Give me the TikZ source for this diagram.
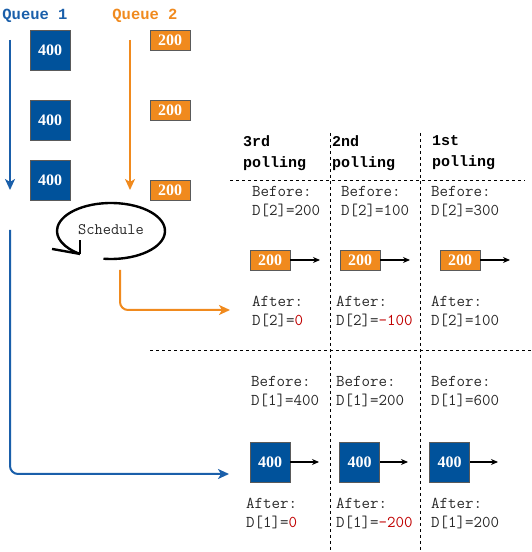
\documentclass[tikz,border=0pt]{standalone}
\usepackage{fontspec}
\setmainfont{Liberation Serif}
\newfontfamily\headmono{Liberation Mono}
\usetikzlibrary{arrows.meta, positioning, calc}
\definecolor{qblue}{RGB}{0, 82, 155}
\definecolor{lineblue}{RGB}{26, 95, 170}
\definecolor{qorange}{RGB}{240, 138, 30}
\definecolor{boxgray}{RGB}{90, 90, 90}
\definecolor{redval}{RGB}{192, 0, 0}
\definecolor{textgray}{RGB}{40, 40, 40}

\begin{document}
\begin{tikzpicture}[x=1pt, y=1pt,
    bigbox/.style={rectangle, draw=boxgray, thick, fill=qblue, text=white,
                   minimum width=40pt, minimum height=40pt, inner sep=0pt,
                   font=\fontsize{16}{16}\selectfont\bfseries},
    smallbox/.style={bigbox, fill=qorange, minimum height=20pt},
    info/.style={anchor=west, align=left, inner sep=0pt, text=textgray,
                 font=\ttfamily\fontsize{16.5}{19}\selectfont},
    head/.style={anchor=west, align=left, inner sep=0pt,
                 font=\headmono\bfseries\fontsize{15}{21}\selectfont},
    sep/.style={line width=0.8pt, dash pattern=on 3pt off 3pt},
    pushline/.style={-{Stealth[length=7pt, width=6pt]}, line width=1.1pt},
    feed/.style={-{Stealth[length=11pt, width=10pt, inset=3pt]},
                 line width=2pt, rounded corners=8pt}]

\useasboundingbox (0,0) rectangle (532,552);

% Queue 1
\node[inner sep=0pt, text=lineblue, font=\headmono\bfseries\fontsize{15.5}{15.5}\selectfont]
      (q1) at (35,536) {Queue 1};
\node[bigbox] (a1) at (50,502) {400};
\node[bigbox] (a2) at (50,432) {400};
\node[bigbox] (a3) at (50,372) {400};
\coordinate (q1top) at (10,512);
\coordinate (q1bot) at (10,362);
\draw[feed, draw=lineblue] (q1top) -- (q1bot);

% Queue 2
\node[inner sep=0pt, text=qorange, font=\headmono\bfseries\fontsize{15.5}{15.5}\selectfont]
      (q2) at (145,536) {Queue 2};
\node[smallbox] (b1) at (170,512) {200};
\node[smallbox] (b2) at (170,442) {200};
\node[smallbox] (b3) at (170,362) {200};
\coordinate (q2top) at (130,512);
\coordinate (q2bot) at (130,362);
\draw[feed, draw=qorange] (q2top) -- (q2bot);

% Scheduler
\coordinate (sched) at (111,321);
\node[inner sep=0pt, text=textgray, font=\ttfamily\fontsize{16}{16}\selectfont]
      (schedtext) at (111,322) {Schedule};
\draw[line width=2.4pt] ($(sched)+(262:54pt and 28pt)$)
      arc[start angle=262, end angle=595, x radius=54pt, y radius=28pt];
\coordinate (schedtip) at ($(sched)+(235:54pt and 28pt)$);
\draw[line width=2.4pt] (schedtip) -- ++(-28,5);
\draw[line width=2.4pt] (schedtip) -- ++(0,14);

% Grid of pollings
\draw[sep] (230,372) -- (525,372);
\draw[sep] (150,202) -- (532,202);
\draw[sep] (330,419) -- (330,0);
\draw[sep] (420,419) -- (420,0);

\node[head] (h3) at (243,399) {3rd\\polling};
\node[head] (h2) at (332,399) {2nd\\polling};
\node[head] (h1) at (432,399) {1st\\polling};

% Queue 2 entries
\node[info] (bb3) at (252,350) {Before:\\D[2]=200};
\node[info] (bb2) at (341,350) {Before:\\D[2]=100};
\node[info] (bb1) at (431,350) {Before:\\D[2]=300};

\node[smallbox] (c3) at (270,292) {200};
\node[smallbox] (c2) at (360,292) {200};
\node[smallbox] (c1) at (460,292) {200};
\coordinate (c3out) at (320,292);
\coordinate (c2out) at (410,292);
\coordinate (c1out) at (510,292);
\draw[pushline] (c3) -- (c3out);
\draw[pushline] (c2) -- (c2out);
\draw[pushline] (c1) -- (c1out);

\node[info] (ba3) at (252,240) {After:\\D[2]=\textcolor{redval}{0}};
\node[info] (ba2) at (336,240) {After:\\D[2]=\textcolor{redval}{-100}};
\node[info] (ba1) at (431,240) {After:\\D[2]=100};

% Queue 1 entries
\node[info] (ab3) at (251,160) {Before:\\D[1]=400};
\node[info] (ab2) at (336,160) {Before:\\D[1]=200};
\node[info] (ab1) at (431,160) {Before:\\D[1]=600};

\node[bigbox] (d3) at (270,90) {400};
\node[bigbox] (d2) at (359.5,90) {400};
\node[bigbox] (d1) at (449.5,90) {400};
\coordinate (d3out) at (319,90);
\coordinate (d2out) at (408,90);
\coordinate (d1out) at (498,90);
\draw[pushline] (d3) -- (d3out);
\draw[pushline] (d2) -- (d2out);
\draw[pushline] (d1) -- (d1out);

\node[info] (aa3) at (246,38) {After:\\D[1]=\textcolor{redval}{0}};
\node[info] (aa2) at (336,38) {After:\\D[1]=\textcolor{redval}{-200}};
\node[info] (aa1) at (431,38) {After:\\D[1]=200};

% Feeds from scheduler
\coordinate (q2feed) at (120,282);
\coordinate (q2in) at (230,242);
\coordinate (q1feed) at (10,322);
\coordinate (q1in) at (229,78);
\draw[feed, draw=qorange] (q2feed) |- (q2in);
\draw[feed, draw=lineblue] (q1feed) |- (q1in);

\end{tikzpicture}
\end{document}
